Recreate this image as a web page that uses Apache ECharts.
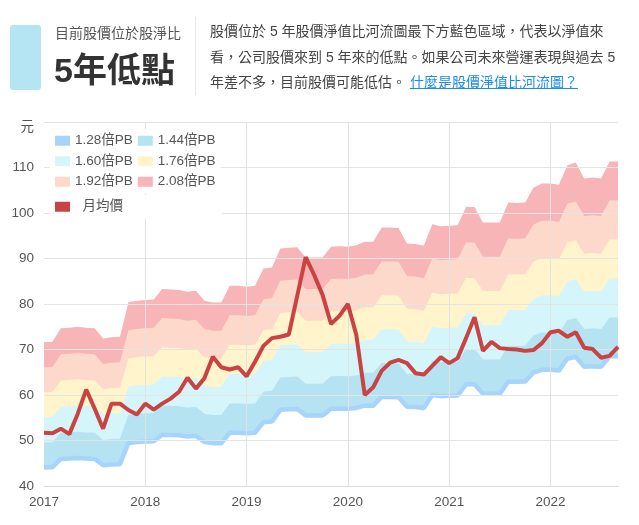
<!DOCTYPE html>
<html>
<head>
<meta charset="utf-8">
<script src="https://cdn.jsdelivr.net/npm/echarts/dist/echarts.min.js"></script>
<style>
    body { margin: 0; background: #fff; font-family: 'Liberation Sans', 'Noto Sans CJK TC', sans-serif; }
    #wrap { position: relative; width: 639px; height: 525px; overflow: hidden; }
    #chart { position: absolute; left: 0; top: 0; width: 639px; height: 525px; }
    .tag { position: absolute; left: 10px; top: 25px; width: 31px; height: 65px; background: #b5e5f3; border-radius: 3px; }
    .sub { position: absolute; left: 55px; top: 24px; font-size: 14px; line-height: 18px; color: #555; white-space: nowrap; }
    .big { position: absolute; left: 54px; top: 50px; font-size: 34px; line-height: 40px; font-weight: bold; color: #333; white-space: nowrap; }
    .sep { position: absolute; left: 195px; top: 17px; width: 1px; height: 78px; background: #e8e8e8; }
    .desc { position: absolute; left: 210px; top: 19px; font-size: 14px; line-height: 25.5px; color: #444; white-space: nowrap; }
    .desc a { color: #1a8cf0; text-decoration: underline; }
</style>
</head>
<body>
<div id="wrap">
    <div id="chart"></div>
    <div class="tag"></div>
    <div class="sub">目前股價位於股淨比</div>
    <div class="big">5年低點</div>
    <div class="sep"></div>
    <div class="desc">
        股價位於 5 年股價淨值比河流圖最下方藍色區域，代表以淨值來<br>
        看，公司股價來到 5 年來的低點。如果公司未來營運表現與過去 5<br>
        年差不多，目前股價可能低估。 <a>什麼是股價淨值比河流圖？</a>
    </div>
</div>
<script>
// months, Jan 2017 - Sep 2022
const months = [
    '2017-01', '2017-02', '2017-03', '2017-04', '2017-05', '2017-06', '2017-07', '2017-08', '2017-09', '2017-10', '2017-11', '2017-12',
    '2018-01', '2018-02', '2018-03', '2018-04', '2018-05', '2018-06', '2018-07', '2018-08', '2018-09', '2018-10', '2018-11', '2018-12',
    '2019-01', '2019-02', '2019-03', '2019-04', '2019-05', '2019-06', '2019-07', '2019-08', '2019-09', '2019-10', '2019-11', '2019-12',
    '2020-01', '2020-02', '2020-03', '2020-04', '2020-05', '2020-06', '2020-07', '2020-08', '2020-09', '2020-10', '2020-11', '2020-12',
    '2021-01', '2021-02', '2021-03', '2021-04', '2021-05', '2021-06', '2021-07', '2021-08', '2021-09', '2021-10', '2021-11', '2021-12',
    '2022-01', '2022-02', '2022-03', '2022-04', '2022-05', '2022-06', '2022-07', '2022-08', '2022-09'
];

// book value per share (元)
const bookValue = [
    34.42, 34.47, 35.91, 35.96, 36.06, 35.96, 35.91, 34.81, 34.95, 35.00,
    38.65, 38.80, 38.89, 38.94, 40.05, 40.00, 39.95, 39.76, 39.86, 38.80,
    38.61, 38.61, 40.38, 40.38, 40.29, 40.38, 42.21, 42.31, 44.33, 44.42,
    44.47, 43.37, 43.37, 43.37, 44.52, 44.57, 44.52, 44.66, 45.05, 45.05,
    46.54, 46.54, 46.49, 44.86, 44.81, 44.62, 46.88, 46.68, 46.73, 46.78,
    48.70, 48.70, 47.07, 47.07, 47.07, 49.18, 49.13, 49.18, 50.77, 51.20,
    51.20, 51.06, 53.13, 53.41, 51.73, 51.83, 51.73, 53.51, 53.51
];

const monthlyPrice = [
    51.7, 51.6, 52.6, 51.4, 55.9, 61.2, 57.0, 52.6, 58.1, 58.1,
    56.7, 55.7, 58.1, 56.8, 58.1, 59.2, 60.7, 63.8, 61.4, 63.7,
    68.4, 66.1, 65.6, 66.1, 64.1, 67.3, 70.8, 72.5, 72.8, 73.3,
    81.8, 90.3, 86.4, 82.0, 75.6, 77.4, 80.0, 73.2, 60.0, 61.7,
    65.3, 67.1, 67.7, 67.0, 64.8, 64.5, 66.4, 68.3, 67.0, 68.1,
    72.5, 77.1, 69.7, 71.7, 70.3, 70.1, 70.0, 69.7, 69.9, 71.4,
    73.8, 74.1, 72.8, 73.8, 70.4, 70.1, 68.2, 68.6, 70.6
];

const pbLevels = [1.28, 1.44, 1.60, 1.76, 1.92, 2.08];
const bandNames = ['1.28倍PB', '1.44倍PB', '1.60倍PB', '1.76倍PB', '1.92倍PB', '2.08倍PB'];
const bandColors = ['#a6d4fa', '#b5e3f2', '#d4f5f9', '#fff4cc', '#fdd9cc', '#f7b5b8'];
const priceName = '月均價';
const priceColor = '#c94343';

const fontFamily = "'Liberation Sans', 'Noto Sans CJK TC', sans-serif";
const chart = echarts.init(document.getElementById('chart'));

const bandData = pbLevels.map(pb => bookValue.map(v => +(v * pb).toFixed(2)));

let series = [];
// highest band first, each area filled down to the axis
for (let i = pbLevels.length - 1; i >= 1; i--) {
    series.push({
        name: bandNames[i],
        type: 'line',
        data: bandData[i],
        symbol: 'none',
        silent: true,
        z: 2,
        lineStyle: { width: 0 },
        itemStyle: { color: bandColors[i] },
        areaStyle: { color: bandColors[i], opacity: 1, origin: 'start' }
    });
}
series.push({
    name: bandNames[0],
    type: 'line',
    data: bandData[0],
    symbol: 'none',
    silent: true,
    z: 2,
    lineStyle: { width: 4.5, color: bandColors[0] },
    itemStyle: { color: bandColors[0] },
    areaStyle: { color: '#fff', opacity: 1, origin: 'start' }
});
series.push({
    name: priceName,
    type: 'line',
    data: monthlyPrice,
    symbol: 'none',
    z: 5,
    lineStyle: { width: 4, color: priceColor },
    itemStyle: { color: priceColor }
});

const isYearStart = i => i % 12 === 0;

const legendBase = {
    left: 50,
    backgroundColor: '#fff',
    icon: 'rect',
    itemWidth: 15,
    itemHeight: 10,
    itemGap: 5,
    selectedMode: false,
    textStyle: { color: '#555', fontSize: 13.5, lineHeight: 15.5, fontFamily: fontFamily }
};

const options = {
    animation: false,
    textStyle: { fontFamily: fontFamily },
    grid: { left: 44, right: 21, top: 122, bottom: 39, outerBoundsMode: 'none' },
    legend: [
        Object.assign({}, legendBase, {
            top: 129,
            width: 170,
            padding: [4, 5],
            data: bandNames
        }),
        Object.assign({}, legendBase, {
            top: 195,
            padding: [4, 99, 4, 5],
            formatter: name => '  ' + name,
            data: [priceName]
        })
    ],
    xAxis: {
        type: 'category',
        data: months,
        boundaryGap: false,
        z: 3,
        axisLine: { lineStyle: { color: '#dcdcdc' } },
        axisTick: { show: false },
        axisLabel: {
            interval: i => isYearStart(i),
            formatter: v => v.slice(0, 4),
            color: '#555',
            fontSize: 13.5,
            margin: 10
        },
        splitLine: {
            show: true,
            interval: i => isYearStart(i) && i > 0,
            lineStyle: { color: '#e2e2e2' }
        }
    },
    yAxis: {
        type: 'value',
        min: 40,
        max: 120,
        interval: 10,
        z: 3,
        axisLine: { show: false },
        axisTick: { show: false },
        splitLine: { lineStyle: { color: '#e4e4e4' } },
        axisLabel: {
            color: '#555',
            fontSize: 13.5,
            margin: 10,
            formatter: v => v === 120 ? '{u|元}' : v,
            rich: { u: { color: '#555', fontSize: 13.5, padding: [10, 0, 0, 0] } }
        }
    },
    series: series
};

chart.setOption(options);
</script>
</body>
</html>
